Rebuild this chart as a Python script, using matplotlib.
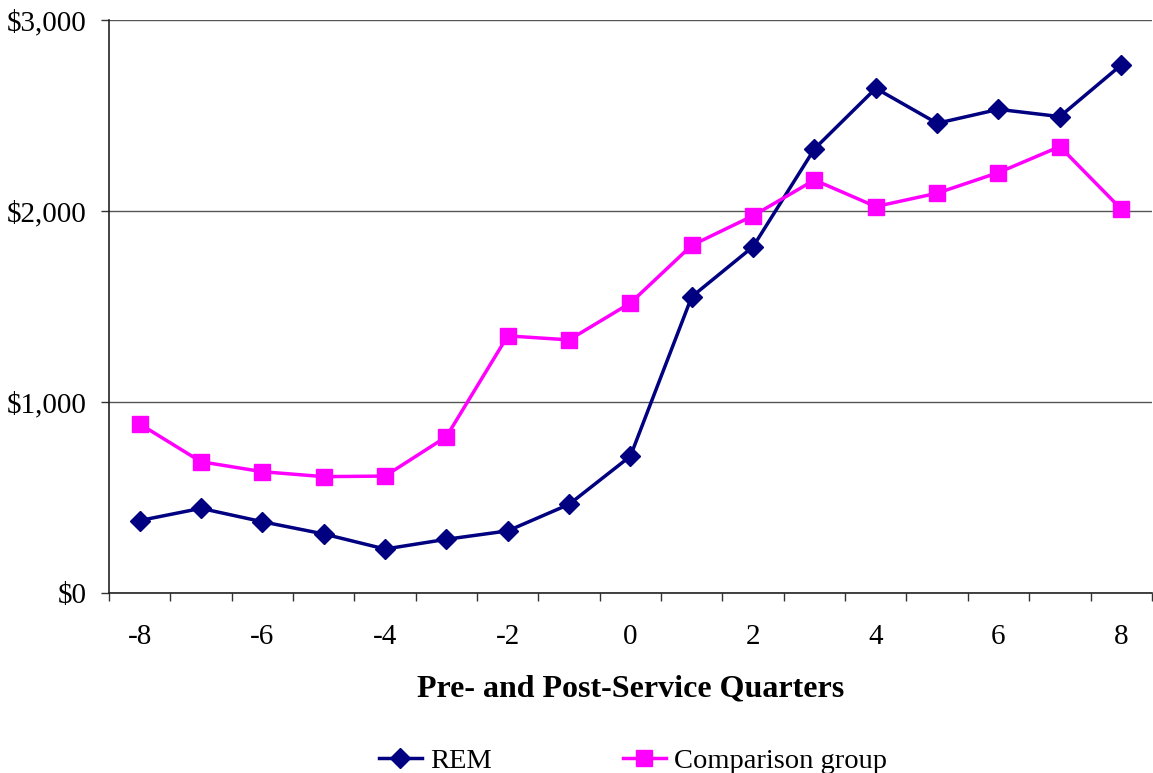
import matplotlib
matplotlib.use("Agg")
import matplotlib.pyplot as plt
from matplotlib.ticker import FuncFormatter, FixedLocator

quarters = [-8, -7, -6, -5, -4, -3, -2, -1, 0, 1, 2, 3, 4, 5, 6, 7, 8]
rem = [379, 443, 373, 309, 230, 281, 325, 464, 716, 1551, 1813, 2325, 2642, 2459, 2532, 2494, 2764]
comparison = [885, 687, 635, 609, 612, 818, 1346, 1325, 1518, 1820, 1975, 2162, 2023, 2093, 2201, 2337, 2010]
y_ticks = [0, 1000, 2000, 3000]

plt.rcParams['font.family'] = ['Liberation Serif', 'DejaVu Serif']

fig = plt.figure(figsize=(11.53, 7.73), dpi=100)
ax = fig.add_axes([0.0945, 0.2329, 0.9045, 0.7413])

pos = list(range(len(quarters)))
ax.plot(pos, rem, color='#000080', lw=2.5, marker='D', markersize=10.5,
        markeredgecolor='#000080', markerfacecolor='#000080', label='REM', zorder=3)
ax.plot(pos, comparison, color='#FF00FF', lw=2.5, marker='s', markersize=12,
        markeredgecolor='#FF00FF', markerfacecolor='#FF00FF', label='Comparison group', zorder=3)

ax.set_xlim(-0.5, len(quarters) - 0.5)
ax.set_ylim(0, 3000)
ax.set_yticks(y_ticks)
ax.yaxis.set_major_formatter(FuncFormatter(lambda v, p: '${:,.0f}'.format(v)))
ax.yaxis.grid(True, color='#555555', lw=1)
ax.set_axisbelow(True)

# category boundaries as major ticks, labels as minor
ax.xaxis.set_major_locator(FixedLocator([i - 0.5 for i in range(len(quarters) + 1)]))
ax.xaxis.set_major_formatter(FuncFormatter(lambda v, p: ''))
lab_pos = [i for i, q in enumerate(quarters) if q % 2 == 0]
ax.xaxis.set_minor_locator(FixedLocator(lab_pos))
ax.xaxis.set_minor_formatter(FuncFormatter(lambda v, p: str(quarters[int(round(v))])))
ax.tick_params(axis='x', which='major', length=6, width=1, color='#333333')
ax.tick_params(axis='x', which='minor', length=0, pad=22, labelsize=21)
ax.tick_params(axis='y', length=6, width=1, labelsize=21, pad=10, color='#333333')

for s in ['top', 'right']:
    ax.spines[s].set_visible(False)
for s in ['left', 'bottom']:
    ax.spines[s].set_color('#222222')
    ax.spines[s].set_linewidth(1.2)

ax.set_xlabel('Pre- and Post-Service Quarters', fontsize=23, fontweight='bold', labelpad=18)

fig.legend(loc='lower center', bbox_to_anchor=(0.549, -0.034), ncol=2, frameon=False,
           fontsize=20.5, columnspacing=4.6, handlelength=1.5, handletextpad=0.3)

fig.savefig('out.png', dpi=100)
